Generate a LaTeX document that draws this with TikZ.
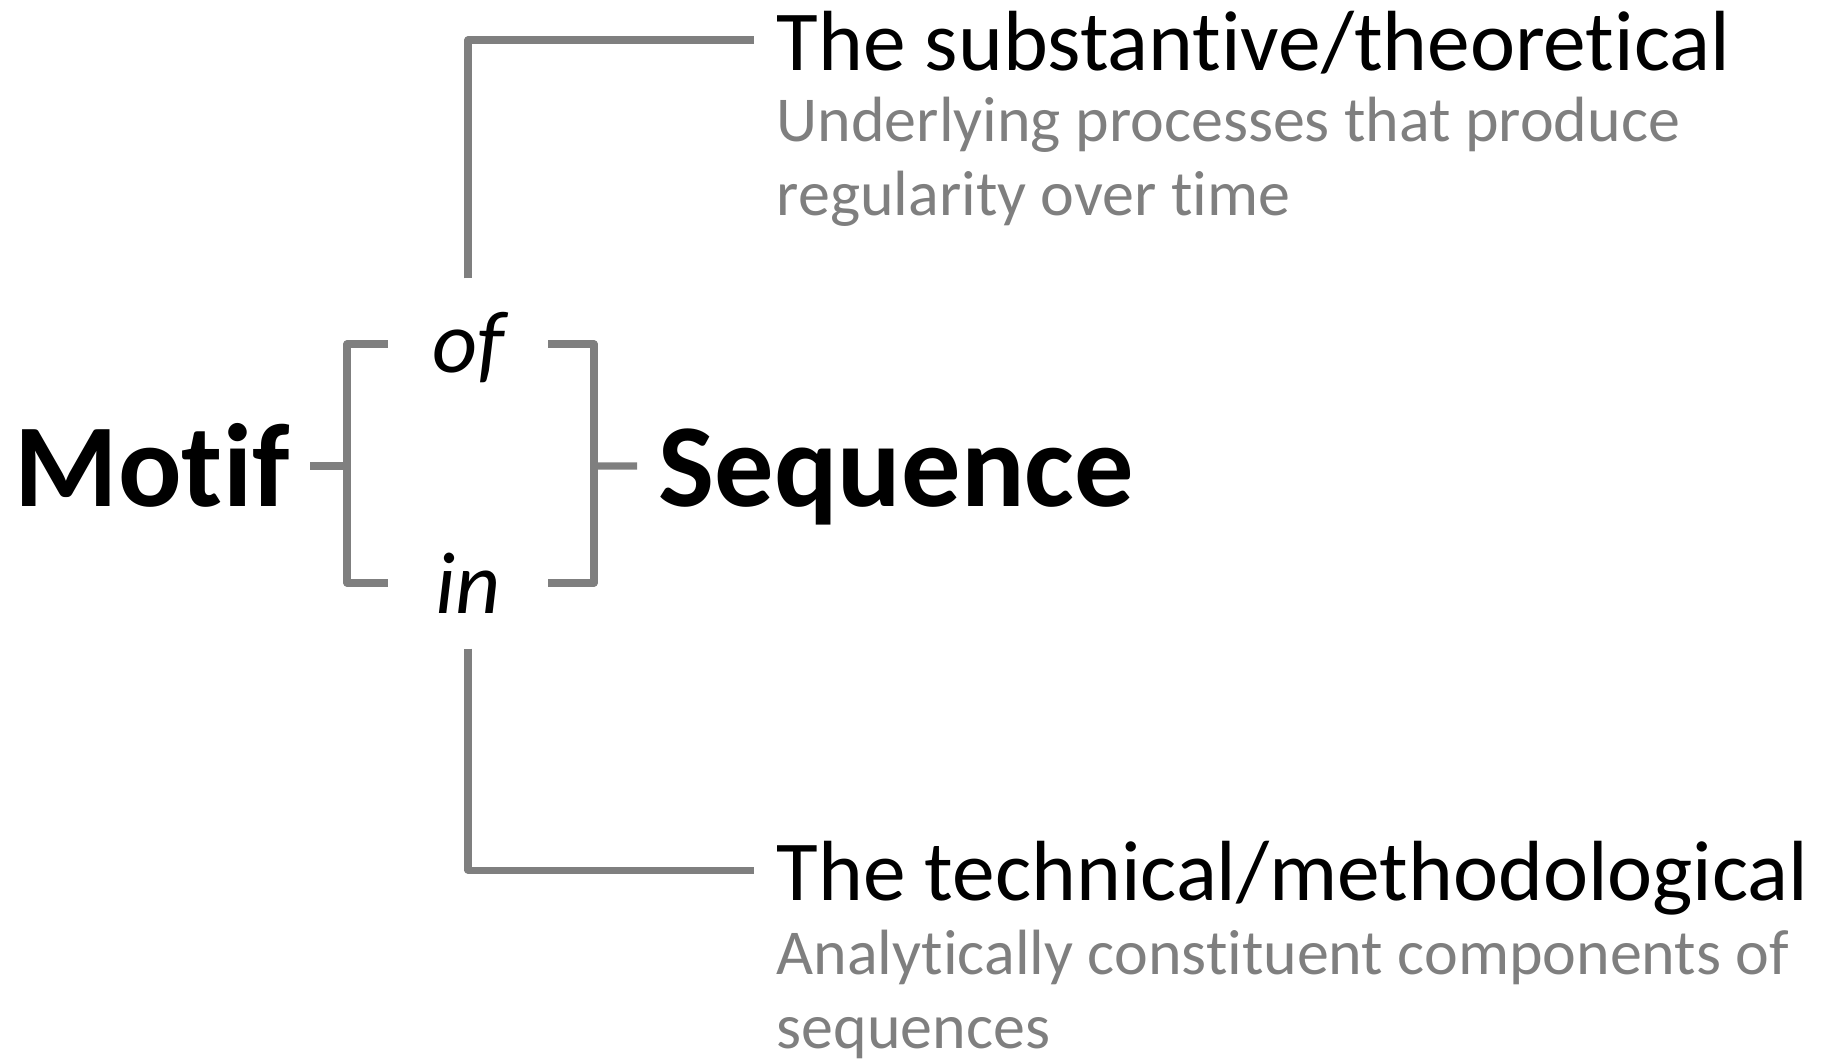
\documentclass[tikz,border=0pt]{standalone}
\usepackage{fontspec}
\setmainfont{Carlito}[Ligatures=NoCommon]
\usetikzlibrary{positioning}
\definecolor{linegray}{HTML}{7F7F7F}
\tikzset{link/.style={draw=linegray,line width=2pt,line join=round},
 big/.style={font=\fontsize{33.7}{40}\selectfont\bfseries,inner ysep=0pt,text height=8mm,text depth=0pt,anchor=base west},
 joiner/.style={font=\fontsize{25}{30}\selectfont\itshape,inner sep=0pt,anchor=base},
 head/.style={font=\fontsize{24.3}{29}\selectfont,inner ysep=0pt,inner xsep=2.2mm,text height=6mm,text depth=0pt,anchor=base west},
 gloss/.style={font=\fontsize{18.2}{20.8}\selectfont,text=linegray,align=left,inner sep=0pt,anchor=base west}}

\begin{document}
\begin{tikzpicture}
\useasboundingbox (0,0) rectangle (18.25,-10.62);
% the two words
\node[big,inner xsep=0pt] (motif) at (0.14,-5.06) {Motif};
\node[big,inner xsep=2.1mm] (seq) at (6.37,-5.06) {Sequence};
\node[joiner,text height=9.3mm] (of) at (4.68,-3.72) {of};
\node[joiner,text depth=3.5mm] (in) at (4.68,-6.13) {in};
% readings (gloss nodes sit on their last line)
\node[head] (theo) at (7.54,-0.70) {The substantive/theoretical};
\node[gloss] (theogl) at (7.76,-2.15) {Underlying processes that produce\\regularity over time};
\node[head] (meth) at (7.54,-9.00) {The technical/methodological};
\node[gloss] (methgl) at (7.76,-10.48) {Analytically constituent components of\\sequences};
% brackets
\coordinate (lbr) at (3.47,-4.66);
\coordinate (rbr) at (5.94,-4.66);
\draw[link] (3.875,-3.44) -| (3.47,-5.83) -- (3.875,-5.83);
\draw[link] (5.48,-3.44) -| (5.94,-5.83) -- (5.48,-5.83);
\draw[link] (3.10,-4.66) -- (lbr);
\draw[link] (rbr) -- (seq.west);
% links to the readings
\draw[link] (of.north) |- (theo.west);
\draw[link] (in.south) |- (meth.west);
\end{tikzpicture}
\end{document}
